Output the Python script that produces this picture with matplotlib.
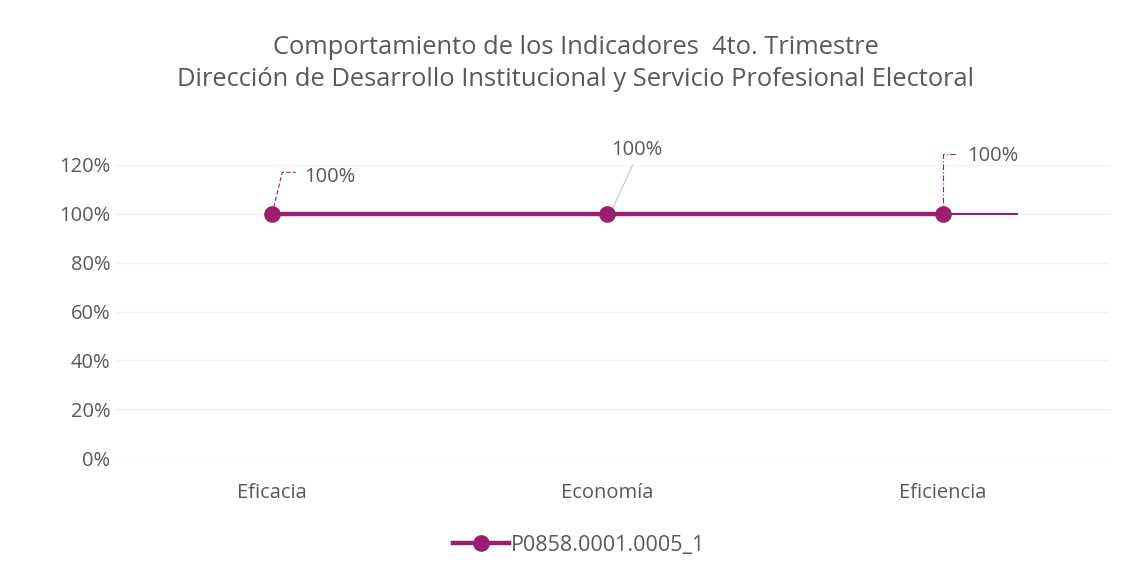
import matplotlib.pyplot as plt
from matplotlib.lines import Line2D

categorias = ['Eficacia', 'Economía', 'Eficiencia']
valores = [1.0, 1.0, 1.0]
etiquetas = ['100%', '100%', '100%']
serie = 'P0858.0001.0005_1'
yticks = [0, 0.2, 0.4, 0.6, 0.8, 1.0, 1.2]

color_linea = '#9B1F70'
color_texto = '#595959'

plt.rcParams['font.family'] = ['Open Sans', 'DejaVu Sans']

fig = plt.figure(figsize=(11.33, 5.75), dpi=100)
ax = fig.add_axes([115 / 1133, 117 / 575, (1110 - 115) / 1133, 293 / 575])

x = list(range(len(categorias)))
# linea delgada de fondo (se extiende despues del ultimo punto)
ax.plot([0, 2.22], [valores[0], valores[-1]], color=color_linea, lw=1.5, zorder=2)
ax.plot(x, valores, color=color_linea, lw=3.2, marker='o', markersize=11,
        solid_capstyle='round', zorder=3)

ax.set_xlim(-0.5 + 10.5 / 335, 2.5 - 0.5 / 335)
ax.set_ylim(0, 1.2)
ax.set_yticks(yticks)
ax.set_yticklabels([f'{int(round(v * 100))}%' for v in yticks])
ax.set_xticks(x)
ax.set_xticklabels(categorias)
ax.tick_params(axis='both', length=0, labelsize=14.5, colors=color_texto)
ax.tick_params(axis='x', pad=18)
ax.tick_params(axis='y', pad=3.2)
ax.grid(axis='y', color='#f0f0f0', lw=0.8)
ax.set_axisbelow(True)
for s in ax.spines.values():
    s.set_visible(False)

H = 575
# etiquetas de datos con lineas guia
ax.annotate(etiquetas[0], xy=(x[0], valores[0]), xytext=(304, H - 177), textcoords='figure pixels',
            fontsize=14.5, color=color_texto, va='center', ha='left')
ax.plot([0.0, 0.03, 0.07], [1.0, 1.17, 1.17], color=color_linea, lw=0.8, ls=(0, (4, 2)), zorder=2)
ax.annotate(etiquetas[1], xy=(x[1], valores[1]), xytext=(637, H - 150), textcoords='figure pixels',
            fontsize=14.5, color=color_texto, va='center', ha='center')
ax.plot([1.015, 1.075], [1.02, 1.2], color='#c8c8c8', lw=0.8, zorder=2, clip_on=False)
ax.annotate(etiquetas[2], xy=(x[2], valores[2]), xytext=(967, H - 156), textcoords='figure pixels',
            fontsize=14.5, color=color_texto, va='center', ha='left')
ax.plot([2.0, 2.0, 2.04], [1.0, 1.245, 1.245], color=color_linea, lw=0.8, ls=(0, (5, 2, 1, 2)),
        zorder=2, clip_on=False)

fig.text(0.508, 1 - 47 / 575, 'Comportamiento de los Indicadores  4to. Trimestre',
         ha='center', va='center', fontsize=18.4, color=color_texto)
fig.text(0.508, 1 - 80 / 575, 'Dirección de Desarrollo Institucional y Servicio Profesional Electoral',
         ha='center', va='center', fontsize=18.4, color=color_texto)

handle = Line2D([], [], color=color_linea, lw=3.2, marker='o', markersize=11)
fig.legend([handle], [serie], loc='center', bbox_to_anchor=(579 / 1133, 1 - 545 / 575),
           frameon=False, fontsize=15.5, labelcolor=color_texto, handlelength=2.6,
           handletextpad=0.1)

fig.savefig('out.png', dpi=100, facecolor='white')
